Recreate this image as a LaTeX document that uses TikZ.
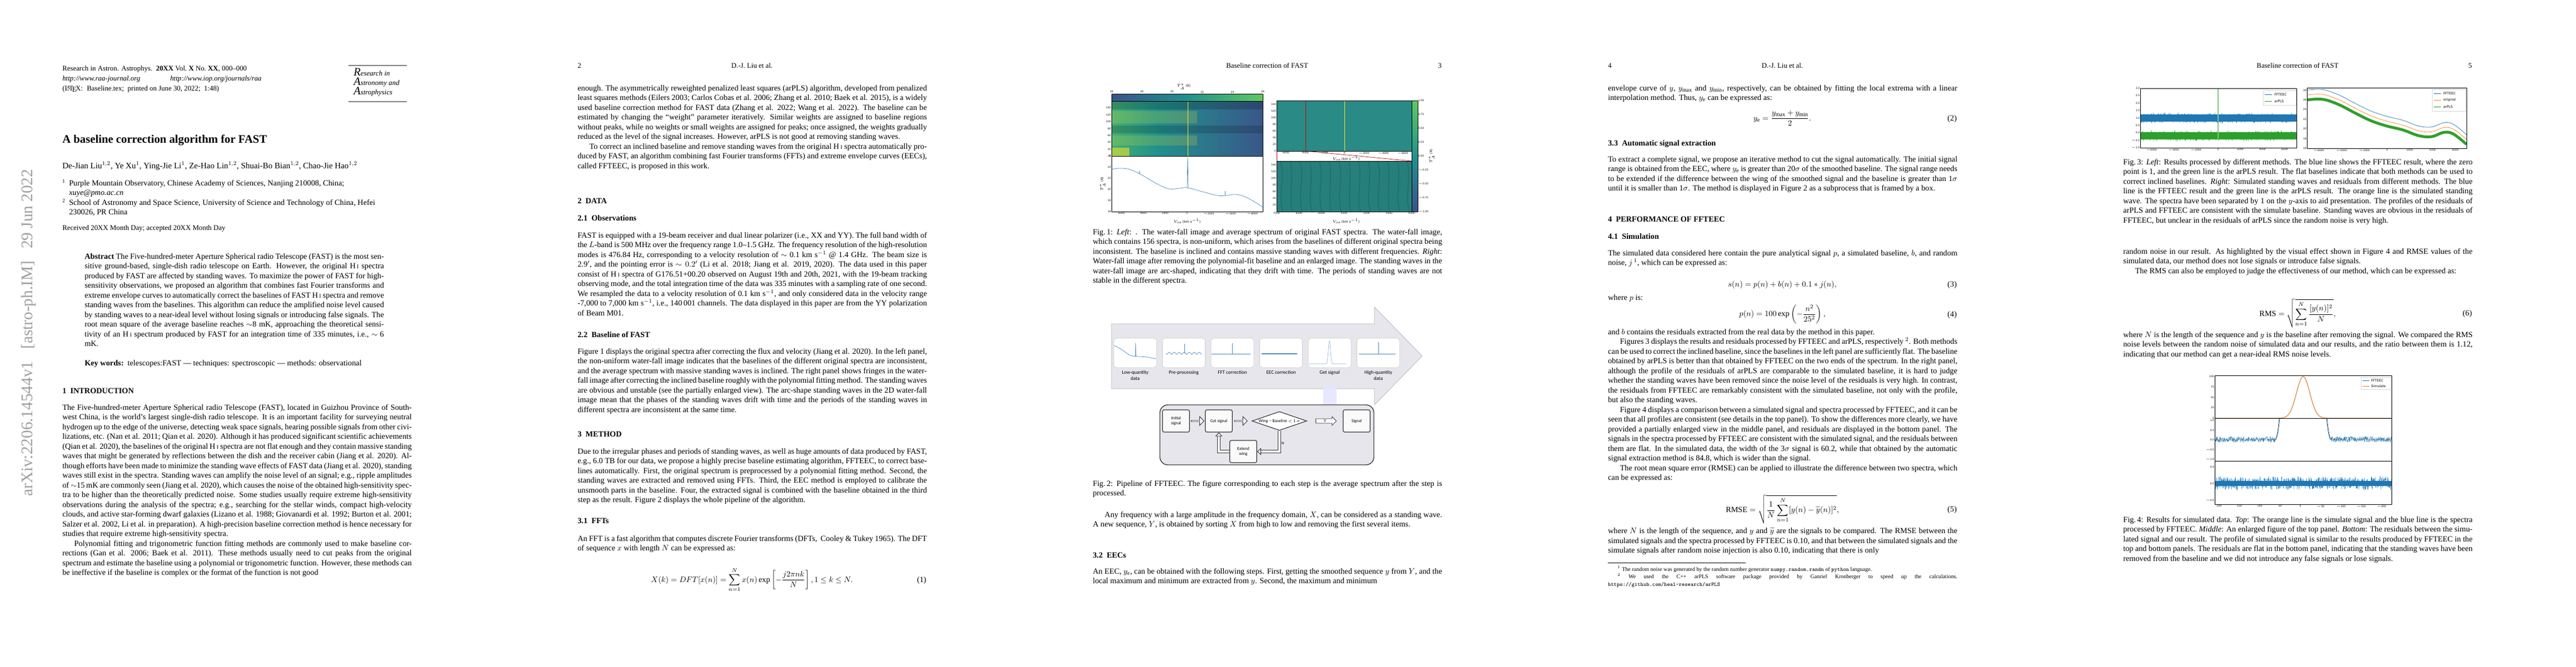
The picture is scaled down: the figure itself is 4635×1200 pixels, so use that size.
\documentclass[tikz,border=0pt]{standalone}
\usepackage{fontspec}
\setmainfont{Liberation Serif}
\newfontfamily\figfont{Carlito}
\newfontfamily\plotfont{DejaVu Sans}
\usetikzlibrary{calc}
\usetikzlibrary{positioning}
\usetikzlibrary{shapes.geometric}
\usetikzlibrary{shapes.arrows}
\usetikzlibrary{arrows.meta}
\definecolor{virA}{HTML}{440154}
\definecolor{virB}{HTML}{3B528B}
\definecolor{virC}{HTML}{21918C}
\definecolor{virD}{HTML}{5EC962}
\definecolor{virE}{HTML}{FDE725}
\definecolor{mplblue}{HTML}{1F77B4}
\definecolor{mplorange}{HTML}{FF7F0E}
\definecolor{mplgreen}{HTML}{2CA02C}
\definecolor{specblue}{HTML}{4A8CC4}
\definecolor{pipegray}{HTML}{E7E6EC}
\definecolor{wfteal}{HTML}{2A8A86}
\newcommand{\pagew}{927}
\newcommand{\textl}{112}
\newcommand{\textc}{426}
\newcommand{\textr}{740}
\newcommand{\HI}{H\,{\scriptsize I}}
\newcommand{\ind}{\hspace*{15pt}}
\pgfdeclarehorizontalshading{viridish}{100bp}{color(0bp)=(virA); color(25bp)=(virB);
  color(50bp)=(virC); color(75bp)=(virD); color(100bp)=(virE)}
\pgfdeclareverticalshading{viridisv}{100bp}{color(0bp)=(virA); color(25bp)=(virB);
  color(50bp)=(virC); color(75bp)=(virD); color(100bp)=(virE)}
\pgfdeclarehorizontalshading{wfall}{100bp}{color(0bp)=(virE!50!virD); color(18bp)=(virD!80!virC);
  color(40bp)=(virC); color(70bp)=(virB!80!virC); color(100bp)=(virB!60!virA)}
\tikzset{
  bodypar/.style={anchor=north west, inner sep=0pt, text width=440pt, align=justify,
    font=\fontsize{10}{12.25}\selectfont},
  abspar/.style={bodypar, text width=377pt},
  oneline/.style={anchor=base west, inner sep=0pt, font=\fontsize{10}{12}\selectfont},
  sechead/.style={oneline, font=\fontsize{10}{12}\selectfont\bfseries},
  runhead/.style={anchor=base, inner sep=0pt, font=\fontsize{9}{11}\selectfont},
  eqn/.style={anchor=center, inner sep=0pt, font=\fontsize{10}{12}\selectfont},
  eqnum/.style={anchor=base east, inner sep=0pt, font=\fontsize{10}{12}\selectfont},
  ticklab/.style={inner sep=0.5pt, font=\plotfont\fontsize{3.2}{4}\selectfont},
  axlab/.style={inner sep=0pt, font=\plotfont\fontsize{4.2}{5}\selectfont},
  frame/.style={draw=black, line width=0.5pt},
  minipanel/.style={draw=gray!40, fill=white, rounded corners=4pt, line width=0.4pt},
  pipelab/.style={anchor=north, align=center, inner sep=0pt,
    font=\figfont\fontsize{6.3}{7.5}\selectfont},
  stepbox/.style={draw=black!80, line width=0.8pt, rounded corners=2pt, fill=white!96!gray,
    align=center, inner sep=1pt, font=\figfont\fontsize{5.4}{6.2}\selectfont},
  hollow/.style={single arrow, draw=black!80, fill=white, line width=0.6pt,
    minimum height=16pt, minimum width=11pt, single arrow head extend=2pt, inner sep=0pt,
    font=\figfont\fontsize{5.4}{6}\selectfont},
  hollowline/.style={draw=black!80, line width=0.6pt, double=white, double distance=3pt,
    -{Triangle[open, length=5pt, width=9pt]}},
  legtext/.style={anchor=west, inner sep=0pt, font=\plotfont\fontsize{4.2}{5}\selectfont}
}
\begin{document}
\begin{tikzpicture}[x=0.7pt, y=-0.7pt]
  \useasboundingbox (0,0) rectangle (4635,1200);
  \fill[white] (0,0) rectangle (4635,1200);
  \pgfmathsetseed{42}
  % page 1
  \begin{scope}
    \node[rotate=90, anchor=base west, inner sep=0pt, text=gray!75,
      font=\fontsize{20.5}{21}\selectfont] (arxivid) at (58,894)
      {arXiv:2206.14544v1\ \ \ [astro-ph.IM]\ \ \ 29 Jun 2022};
    \node[oneline, font=\fontsize{9}{11}\selectfont] (journal) at (\textl,127)
      {Research in Astron. Astrophys.\ \ \textbf{20XX} Vol.\ \textbf{X} No.\ \textbf{XX}, 000--000};
    \node[oneline, font=\fontsize{9}{11}\selectfont] (urls) at (\textl,145)
      {\textit{http://www.raa-journal.org}\hspace{4.2em}\textit{http://www.iop.org/journals/raa}};
    \node[oneline, font=\fontsize{9}{11}\selectfont] (printed) at (\textl,163)
      {(\LaTeX: \ Baseline.tex; \ printed on June 30, 2022; \ 1:48)};
    \draw[gray, line width=1.3pt] (627,118) -- (732,118);
    \draw[gray, line width=1.3pt] (627,183) -- (732,183);
    \node[oneline, font=\fontsize{9}{11}\itshape] (logoa) at (636,136) {{\Large R}esearch in};
    \node[oneline, font=\fontsize{9}{11}\itshape] (logob) at (636,153) {{\Large A}stronomy and};
    \node[oneline, font=\fontsize{9}{11}\itshape] (logoc) at (636,170) {{\Large A}strophysics};
    \node[oneline, font=\fontsize{14.5}{16}\selectfont\bfseries] (title) at (\textl,257)
      {A baseline correction algorithm for FAST};
    \node[oneline, font=\fontsize{10.5}{12}\selectfont] (authors) at (\textl,303)
      {De-Jian Liu$^{1,2}$, Ye Xu$^{1}$, Ying-Jie Li$^{1}$, Ze-Hao Lin$^{1,2}$,
       Shuai-Bo Bian$^{1,2}$, Chao-Jie Hao$^{1,2}$};
    \node[oneline, font=\fontsize{6.5}{8}\selectfont] (affa) at (\textl,329) {1};
    \node[oneline] (affatext) at (124,334)
      {Purple Mountain Observatory, Chinese Academy of Sciences, Nanjing 210008, China;};
    \node[oneline] (email) at (124,351) {\textit{xuye@pmo.ac.cn}};
    \node[oneline, font=\fontsize{6.5}{8}\selectfont] (affb) at (\textl,364) {2};
    \node[oneline] (affbtext) at (124,369)
      {School of Astronomy and Space Science, University of Science and Technology of China, Hefei};
    \node[oneline] (affbcity) at (124,386) {230026, PR China};
    \node[oneline, font=\fontsize{9}{11}\selectfont] (received) at (\textl,414)
      {Received 20XX Month Day; accepted 20XX Month Day};
    \node[abspar] (abstract) at (152,456)
      {\textbf{Abstract} The Five-hundred-meter Aperture Spherical radio Telescope (FAST) is the most
       sensitive ground-based, single-dish radio telescope on Earth. However, the original \HI{}
       spectra produced by FAST are affected by standing waves. To maximize the power of
       FAST for high-sensitivity observations, we proposed an algorithm that combines fast
       Fourier transforms and extreme envelope curves to automatically correct the baselines
       of FAST \HI{} spectra and remove standing waves from the baselines. This algorithm can
       reduce the amplified noise level caused by standing waves to a near-ideal level without
       losing signals or introducing false signals. The root mean square of the average baseline
       reaches $\sim$8 mK, approaching the theoretical sensitivity of an \HI{} spectrum produced by
       FAST for an integration time of 335 minutes, i.e., $\sim$ 6 mK.};
    \node[oneline] (keywords) at (152,658)
      {\textbf{Key words:}\ \ telescopes:FAST --- techniques: spectroscopic --- methods: observational};
    \node[sechead] (secintro) at (\textl,708) {1\ \ INTRODUCTION};
    \node[bodypar] (intro) at (\textl,728)
      {The Five-hundred-meter Aperture Spherical radio Telescope (FAST), located in Guizhou Province of
       Southwest China, is the world's largest single-dish radio telescope. It is an important facility for
       surveying neutral hydrogen up to the edge of the universe, detecting weak space signals, hearing possible
       signals from other civilizations, etc. (Nan et al. 2011; Qian et al. 2020). Although it has produced
       significant scientific achievements (Qian et al. 2020), the baselines of the original \HI{} spectra are not flat
       enough and they contain massive standing waves that might be generated by reflections between the dish
       and the receiver cabin (Jiang et al. 2020). Although efforts have been made to minimize the standing
       wave effects of FAST data (Jiang et al. 2020), standing waves still exist in the spectra. Standing waves
       can amplify the noise level of an signal; e.g., ripple amplitudes of $\sim$15 mK are commonly seen (Jiang
       et al. 2020), which causes the noise of the obtained high-sensitivity spectra to be higher than the
       theoretically predicted noise. Some studies usually require extreme high-sensitivity observations during
       the analysis of the spectra; e.g., searching for the stellar winds, compact high-velocity clouds, and
       active star-forming dwarf galaxies (Lizano et al. 1988; Giovanardi et al. 1992; Burton et al. 2001; Salzer
       et al. 2002, Li et al. in preparation). A high-precision baseline correction method is hence necessary for
       studies that require extreme high-sensitivity spectra.\par
       \ind Polynomial fitting and trigonometric function fitting methods are commonly used to make baseline
       corrections (Gan et al. 2006; Baek et al. 2011). These methods usually need to cut peaks from the
       original spectrum and estimate the baseline using a polynomial or trigonometric function. However,
       these methods can be ineffective if the baseline is complex or the format of the function is not good};
  \end{scope}
  % page 2
  \begin{scope}[shift={(927,0)}]
    \node[oneline, font=\fontsize{9}{11}\selectfont] (pnumb) at (\textl,122) {2};
    \node[runhead] (rheadb) at (\textc,122) {D.-J. Liu et al.};
    \node[bodypar] (arpls) at (\textl,153)
      {enough. The asymmetrically reweighted penalized least squares (arPLS) algorithm, developed from
       penalized least squares methods (Eilers 2003; Carlos Cobas et al. 2006; Zhang et al. 2010; Baek et al.
       2015), is a widely used baseline correction method for FAST data (Zhang et al. 2022; Wang et al.
       2022). The baseline can be estimated by changing the ``weight'' parameter iteratively. Similar weights
       are assigned to baseline regions without peaks, while no weights or small weights are assigned for peaks;
       once assigned, the weights gradually reduced as the level of the signal increases. However, arPLS is not
       good at removing standing waves.\par
       \ind To correct an inclined baseline and remove standing waves from the original \HI{} spectra
       automatically produced by FAST, an algorithm combining fast Fourier transforms (FFTs) and extreme envelope
       curves (EECs), called FFTEEC, is proposed in this work.};
    \node[sechead] (secdata) at (\textl,366) {2\ \ DATA};
    \node[sechead] (secobs) at (\textl,397) {2.1\ \ Observations};
    \node[bodypar] (obs) at (\textl,418)
      {FAST is equipped with a 19-beam receiver and dual linear polarizer (i.e., XX and YY). The full band
       width of the $L$-band is 500 MHz over the frequency range 1.0--1.5 GHz. The frequency resolution of
       the high-resolution modes is 476.84 Hz, corresponding to a velocity resolution of $\sim$ 0.1 km s$^{-1}$ @
       1.4 GHz. The beam size is 2.9$'$, and the pointing error is $\sim 0.2'$ (Li et al. 2018; Jiang et al. 2019, 2020).
       The data used in this paper consist of \HI{} spectra of G176.51+00.20 observed on August 19th and 20th,
       2021, with the 19-beam tracking observing mode, and the total integration time of the data was 335
       minutes with a sampling rate of one second. We resampled the data to a velocity resolution of 0.1 km
       s$^{-1}$, and only considered data in the velocity range -7,000 to 7,000 km s$^{-1}$, i.e., 140\,001 channels. The
       data displayed in this paper are from the YY polarization of Beam M01.};
    \node[sechead] (secbase) at (\textl,607) {2.2\ \ Baseline of FAST};
    \node[bodypar] (base) at (\textl,627)
      {Figure 1 displays the original spectra after correcting the flux and velocity (Jiang et al. 2020). In the left
       panel, the non-uniform water-fall image indicates that the baselines of the different original spectra are
       inconsistent, and the average spectrum with massive standing waves is inclined. The right panel shows
       fringes in the water-fall image after correcting the inclined baseline roughly with the polynomial fitting
       method. The standing waves are obvious and unstable (see the partially enlarged view). The arc-shape
       standing waves in the 2D water-fall image mean that the phases of the standing waves drift with time
       and the periods of the standing waves in different spectra are inconsistent at the same time.};
    \node[sechead] (secmethod) at (\textl,786) {3\ \ METHOD};
    \node[bodypar] (method) at (\textl,807)
      {Due to the irregular phases and periods of standing waves, as well as huge amounts of data produced by
       FAST, e.g., 6.0 TB for our data, we propose a highly precise baseline estimating algorithm, FFTEEC,
       to correct baselines automatically. First, the original spectrum is preprocessed by a polynomial fitting
       method. Second, the standing waves are extracted and removed using FFTs. Third, the EEC method is
       employed to calibrate the unsmooth parts in the baseline. Four, the extracted signal is combined with the
       baseline obtained in the third step as the result. Figure 2 displays the whole pipeline of the algorithm.};
    \node[sechead] (secfft) at (\textl,942) {3.1\ \ FFTs};
    \node[bodypar] (fft) at (\textl,964)
      {An FFT is a fast algorithm that computes discrete Fourier transforms (DFTs, \ Cooley \& Tukey 1965).
       The DFT of sequence $x$ with length $N$ can be expressed as:};
    \node[eqn] (eqdft) at (\textc,1044)
      {$\displaystyle X(k)=DFT[x(n)]=\sum_{n=1}^{N}x(n)\exp\left[-\frac{j2\pi nk}{N}\right],1\leq k\leq N.$};
    \node[eqnum] (eqdftnum) at (\textr,1048) {(1)};
  \end{scope}
  % page 3
  \begin{scope}[shift={(1854,0)}]
    \node[runhead] (rheadc) at (\textc,122) {Baseline correction of FAST};
    \node[anchor=base east, inner sep=0pt, font=\fontsize{9}{11}\selectfont] (pnumc) at (\textr,122) {3};
    % fig 1 left: colour bar, water-fall image, average spectrum
    \shade[shading=viridish] (146,169) rectangle (418,182);
    \draw[frame] (146,169) rectangle (418,182);
    \node[axlab] (cblab) at (276,156) {$T_A^*$ (K)};
    \foreach \v in {16,18,...,26}
      \node[ticklab, above] at ({146+(\v-16)*27.2},168) {\v};
    \shade[shading=wfall] (146,182) rectangle (418,281);
    \fill[black, opacity=0.18] (146,182) rectangle (418,197);
    \fill[black, opacity=0.16] (146,226) rectangle (418,240);
    \fill[virE, opacity=0.18] (146,200) rectangle (300,222);
    \fill[virE, opacity=0.18] (146,244) rectangle (300,262);
    \fill[virE, opacity=0.55] (146,266) rectangle (178,281);
    \draw[virE, line width=0.6pt] (283,182) -- (283,281);
    \draw[frame] (146,182) rectangle (418,281);
    \foreach \v in {0,20,...,140}
      \node[ticklab, left] at (146,{281-\v*0.62}) {\v};
    \draw[frame] (146,281) rectangle (418,381);
    \draw[specblue, line width=0.5pt] plot[smooth, tension=0.6] coordinates {(146,305) (159.6,303)
      (178.6,305) (200.4,315) (227.6,331) (249.4,340) (268.4,339) (282,338) (309.2,345) (336.4,352)
      (352.7,352) (369,350) (385.4,354) (404.4,364) (418,373)};
    \draw[specblue, line width=0.5pt] (282,338) -- (283,281) -- (284,338);
    \draw[specblue, line width=0.4pt] (350,352) -- (350,344);
    \draw[specblue, line width=0.4pt] (196,313) -- (196,308);
    \foreach \v in {16,18,...,26}
      \node[ticklab, left] at (146,{381-(\v-16)*10}) {\v};
    \foreach \v [count=\i from 0] in {6000,4000,2000,0,$-$2000,$-$4000,$-$6000}
      \node[ticklab, below] at ({164+\i*39.2},381) {\v};
    \node[axlab] (xlabl) at (282,398) {$V_{\rm LSR}$ (km s$^{-1}$)};
    \node[axlab, rotate=90] (ylabl) at (130,331) {$T_A^*$ (K)};
    % fig 1 right: corrected water-fall image and enlarged view
    \fill[wfteal] (443,181) rectangle (686,272);
    \fill[wfteal!92!black] (443,290) rectangle (686,381);
    \foreach \k in {0,...,13}
      \draw[wfteal!70!black, line width=1.2pt, opacity=0.5]
        ({450+\k*17.5},290) .. controls ({458+\k*17.5},320) and ({446+\k*17.5},350) .. ({454+\k*17.5},381);
    \draw[virE, line width=0.7pt] (565,181) -- (565,272);
    \draw[red!80!black, line width=0.6pt] (443,181) rectangle (495,272);
    \draw[red!80!black, line width=0.5pt] (443,272) -- (443,290);
    \draw[red!80!black, line width=0.5pt] (495,272) -- (686,290);
    \draw[frame] (443,181) rectangle (686,272);
    \draw[frame] (443,290) rectangle (686,381);
    \foreach \v in {0,20,...,140}
      \node[ticklab, left] at (443,{272-\v*0.6}) {\v};
    \foreach \v in {20,40,...,140}
      \node[ticklab, left] at (443,{381-\v*0.6}) {\v};
    \foreach \v [count=\i from 0] in {6000,4000,2000,0,$-$2000,$-$4000,$-$6000}
      \node[ticklab, below] at ({460+\i*35},272) {\v};
    \node[axlab] (xlabrt) at (568,285) {$V_{\rm LSR}$ (km s$^{-1}$)};
    \foreach \v [count=\i from 0] in {7000,6500,6000,5500,5000,4500,4000}
      \node[ticklab, below] at ({443+\i*40.5},381) {\v};
    \node[axlab] (xlabrb) at (568,398) {$V_{\rm LSR}$ (km s$^{-1}$)};
    \shade[shading=viridisv] (686,181) rectangle (697,381);
    \draw[frame] (686,181) rectangle (697,381);
    \foreach \v [count=\i from 0] in {1.00,0.75,0.50,0.25,0.00,$-$0.25,$-$0.50,$-$0.75,$-$1.00}
      \node[ticklab, right] at (697,{181+\i*25}) {\v};
    \node[axlab, rotate=90] (cblabr) at (722,281) {$T_A^*$ (K)};
    \node[bodypar] (capone) at (\textl,412)
      {Fig.\,1: \textit{Left}: . The water-fall image and average spectrum of original FAST spectra. The water-fall
       image, which contains 156 spectra, is non-uniform, which arises from the baselines of different original
       spectra being inconsistent. The baseline is inclined and contains massive standing waves with different
       frequencies. \textit{Right}: Water-fall image after removing the polynomial-fit baseline and an enlarged image.
       The standing waves in the water-fall image are arc-shaped, indicating that they drift with time. The
       periods of standing waves are not stable in the different spectra.};
    % fig 2: pipeline
    \filldraw[fill=pipegray, draw=gray!60, line width=0.5pt] (146,583) -- (619,583) -- (619,553)
      -- (705,641) -- (619,729) -- (619,700) -- (146,700) -- cycle;
    \foreach \lab [count=\i from 0] in {Low-quantity\\data,Pre-processing,FFT correction,
        EEC correction,Get signal,High-quantity\\data} {
      \draw[minipanel] ({150+\i*87.5},609) rectangle ({227+\i*87.5},662);
      \node[pipelab] (steplab\i) at ({188.5+\i*87.5},667) {\lab};
    }
    \draw[specblue, line width=0.5pt] plot[smooth] coordinates {(151,622) (165,630) (180,640)
      (195,642) (210,643) (226,646)};
    \draw[specblue, line width=0.5pt] (189,642) -- (189,617) -- (190,642);
    \draw[specblue, line width=0.5pt] plot[domain=244:308, samples=40] (\x,{636+2*sin(\x*40)});
    \draw[specblue, line width=0.5pt] (277,636) -- (277,619);
    \draw[specblue, line width=0.6pt] (326,637) -- (396,637);
    \draw[specblue, line width=0.5pt] (363,637) -- (363,618);
    \draw[specblue, line width=1pt] (416,637) -- (480,637);
    \draw[specblue!70, line width=0.4pt] (501,655) -- (532,655) .. controls (536,655) and (536,615)
      .. (538,614) .. controls (540,615) and (540,655) .. (544,655) -- (568,655);
    \draw[specblue, line width=0.6pt] (591,637) -- (657,637);
    \draw[specblue, line width=0.5pt] (626,637) -- (626,616);
    \node[single arrow, shape border rotate=270, fill=blue!10, draw=none, minimum height=36pt,
      minimum width=26pt, single arrow head extend=2pt, opacity=0.9] (downarrow) at (539,715) {};
    \filldraw[fill=pipegray, draw=black!75, line width=1pt, rounded corners=10pt]
      (233,729) rectangle (618,837);
    \node[stepbox, minimum width=34pt, minimum height=28pt] (initsig) at (262,758) {Initial\\signal};
    \node[stepbox, minimum width=34pt, minimum height=28pt] (cutsig) at (339,758) {Cut signal};
    \node[diamond, aspect=2.9, draw=black!80, line width=0.8pt, fill=white, inner sep=0.5pt,
      font=\figfont\fontsize{5.4}{6}\selectfont] (wingtest) at (448,758)
      {Wing -- Baseline $<$ 1 $\sigma$};
    \node[stepbox, minimum width=34pt, minimum height=28pt] (signal) at (587,758) {Signal};
    \node[stepbox, minimum width=34pt, minimum height=28pt] (extwing) at (383,813) {Extend\\wing};
    \node[hollow] (arra) at ($(initsig.east)!0.5!(cutsig.west)$) {};
    \node[hollow] (arrb) at ($(cutsig.east)!0.42!(wingtest.west)$) {};
    \node[hollow, minimum height=26pt] (arry) at ($(wingtest.east)!0.5!(signal.west)$) {Y\hspace{6pt}};
    \draw[hollowline] (extwing.west) -| (cutsig.south);
    \draw[hollowline] (wingtest.south) |- (extwing.east) node[pos=0.3, right=-1pt,
      font=\figfont\fontsize{5}{6}\selectfont] (nlab) {N};
    \node[bodypar] (captwo) at (\textl,865)
      {Fig.\,2: Pipeline of FFTEEC. The figure corresponding to each step is the average spectrum after the step
       is processed.};
    \node[bodypar] (anyfreq) at (\textl,921)
      {\ind Any frequency with a large amplitude in the frequency domain, $X$, can be considered as a standing
       wave. A new sequence, $Y$, is obtained by sorting $X$ from high to low and removing the first several
       items.};
    \node[sechead] (seceec) at (\textl,1004) {3.2\ \ EECs};
    \node[bodypar] (eec) at (\textl,1023)
      {An EEC, $y_{\rm e}$, can be obtained with the following steps. First, getting the smoothed sequence $y$ from
       $Y$, and the local maximum and minimum are extracted from $y$. Second, the maximum and minimum};
  \end{scope}
  % page 4
  \begin{scope}[shift={(2781,0)}]
    \node[oneline, font=\fontsize{9}{11}\selectfont] (pnumd) at (\textl,122) {4};
    \node[runhead] (rheadd) at (\textc,122) {D.-J. Liu et al.};
    \node[bodypar] (envelope) at (\textl,153)
      {envelope curve of $y$, $y_{\rm max}$ and $y_{\rm min}$, respectively, can be obtained by fitting the local extrema with a
       linear interpolation method. Thus, $y_{\rm e}$ can be expressed as:};
    \node[eqn] (eqye) at (\textc,213) {$\displaystyle y_{\rm e}=\frac{y_{\rm max}+y_{\rm min}}{2}.$};
    \node[eqnum] (eqyenum) at (\textr,217) {(2)};
    \node[sechead] (secauto) at (\textl,262) {3.3\ \ Automatic signal extraction};
    \node[bodypar] (auto) at (\textl,281)
      {To extract a complete signal, we propose an iterative method to cut the signal automatically. The initial
       signal range is obtained from the EEC, where $y_{\rm e}$ is greater than 20$\sigma$ of the smoothed baseline. The signal
       range needs to be extended if the difference between the wing of the smoothed signal and the baseline
       is greater than 1$\sigma$ until it is smaller than 1$\sigma$. The method is displayed in Figure 2 as a subprocess that is
       framed by a box.};
    \node[sechead] (secperf) at (\textl,399) {4\ \ PERFORMANCE OF FFTEEC};
    \node[sechead] (secsim) at (\textl,430) {4.1\ \ Simulation};
    \node[bodypar] (sim) at (\textl,450)
      {The simulated data considered here contain the pure analytical signal $p$, a simulated baseline, $b$, and
       random noise, $j$\,$^{1}$, which can be expressed as:};
    \node[eqn] (eqsn) at (\textc,513) {$s(n)=p(n)+b(n)+0.1*j(n),$};
    \node[eqnum] (eqsnnum) at (\textr,516) {(3)};
    \node[oneline] (wherep) at (\textl,540) {where $p$ is:};
    \node[eqn] (eqpn) at (\textc,566) {$\displaystyle p(n)=100\exp\left(-\frac{n^2}{25^2}\right),$};
    \node[eqnum] (eqpnnum) at (\textr,570) {(4)};
    \node[bodypar] (results) at (\textl,592)
      {and $b$ contains the residuals extracted from the real data by the method in this paper.\par
       \ind Figures 3 displays the results and residuals processed by FFTEEC and arPLS, respectively $^{2}$. Both
       methods can be used to correct the inclined baseline, since the baselines in the left panel are sufficiently
       flat. The baseline obtained by arPLS is better than that obtained by FFTEEC on the two ends of the
       spectrum. In the right panel, although the profile of the residuals of arPLS are comparable to the
       simulated baseline, it is hard to judge whether the standing waves have been removed since the noise level
       of the residuals is very high. In contrast, the residuals from FFTEEC are remarkably consistent with the
       simulated baseline, not only with the profile, but also the standing waves.\par
       \ind Figure 4 displays a comparison between a simulated signal and spectra processed by FFTEEC, and
       it can be seen that all profiles are consistent (see details in the top panel). To show the differences more
       clearly, we have provided a partially enlarged view in the middle panel, and residuals are displayed in
       the bottom panel. The signals in the spectra processed by FFTEEC are consistent with the simulated
       signal, and the residuals between them are flat. In the simulated data, the width of the 3$\sigma$ signal is 60.2,
       while that obtained by the automatic signal extraction method is 84.8, which is wider than the signal.\par
       \ind The root mean square error (RMSE) can be applied to illustrate the difference between two spectra,
       which can be expressed as:};
    \node[eqn] (eqrmse) at (\textc,917)
      {$\displaystyle \mathrm{RMSE}=\sqrt{\frac{1}{N}\sum_{n=1}^{N}[y(n)-\widetilde{y}(n)]^2},$};
    \node[eqnum] (eqrmsenum) at (\textr,921) {(5)};
    \node[bodypar] (rmsetext) at (\textl,950)
      {where $N$ is the length of the sequence, and $y$ and $\widetilde{y}$ are the signals to be compared. The RMSE between
       the simulated signals and the spectra processed by FFTEEC is 0.10, and that between the simulated
       signals and the simulate signals after random noise injection is also 0.10, indicating that there is only};
    \draw[line width=0.4pt] (\textl,1013) -- (360,1013);
    \node[bodypar, font=\fontsize{7}{9.6}\selectfont] (footnotes) at (\textl,1019)
      {\hspace*{12pt}$^{1}$ The random noise was generated by the random number generator \texttt{numpy.random.randn}
       of \texttt{python} language.\par
       \hspace*{12pt}$^{2}$ We used the C++ arPLS software package provided by Ganriel Kronberger to speed up the
       calculations. \texttt{https://github.com/heal-research/arPLS}};
  \end{scope}
  % page 5
  \begin{scope}[shift={(3708,0)}]
    \node[runhead] (rheade) at (\textc,122) {Baseline correction of FAST};
    \node[anchor=base east, inner sep=0pt, font=\fontsize{9}{11}\selectfont] (pnume) at (\textr,122) {5};
    % fig 3 left: FFTEEC and arPLS results
    \fill[mplblue] (143,206) rectangle (424,219);
    \draw[mplblue, line width=0.35pt] plot[domain=143:424, samples=500] (\x,{212.5+9*rand});
    \fill[mplgreen] (143,238) rectangle (424,251);
    \draw[mplgreen, line width=0.35pt] plot[domain=143:424, samples=500] (\x,{244.5+9*rand});
    \draw[mplgreen!60, line width=1pt] (283,159) -- (283,252);
    \draw[frame] (143,159) rectangle (424,266);
    \foreach \v [count=\i from 0] in {$-$1.0,$-$0.5,0.0,0.5,1.0,1.5,2.0,2.5,3.0}
      \node[ticklab, left] at (143,{266-\i*13.4}) {\v};
    \foreach \v [count=\i from 0] in {$-$6000,$-$4000,$-$2000,0,2000,4000,6000}
      \node[ticklab, below] at ({163+\i*40},266) {\v};
    \draw[fill=white, draw=gray!30] (364,163) rectangle (423,189);
    \draw[mplblue, line width=0.6pt] (367,170) -- (380,170);
    \node[legtext] (legaa) at (384,170) {FFTEEC};
    \draw[mplgreen, line width=0.6pt] (367,182) -- (380,182);
    \node[legtext] (legab) at (384,182) {arPLS};
    % fig 3 right: standing waves and residuals
    \draw[mplgreen, line width=3.5pt] plot[smooth, tension=0.6] coordinates {(443,179.8) (471.7,178.9)
      (500.4,188.5) (529.1,203.3) (557.8,217.3) (586.5,226.9) (615.2,233.9) (643.9,244.3)
      (666.9,246.1) (689.8,238.2) (707,241.7) (730,260)};
    \draw[mplorange, line width=0.5pt, yshift=6.1pt] plot[smooth, tension=0.6] coordinates {(443,179.8)
      (471.7,178.9) (500.4,188.5) (529.1,203.3) (557.8,217.3) (586.5,226.9) (615.2,233.9) (643.9,244.3)
      (666.9,246.1) (689.8,238.2) (707,241.7) (730,260)};
    \draw[mplblue, line width=0.5pt, yshift=12.2pt] plot[smooth, tension=0.6] coordinates {(443,179.8)
      (471.7,178.9) (500.4,188.5) (529.1,203.3) (557.8,217.3) (586.5,226.9) (615.2,233.9) (643.9,244.3)
      (666.9,246.1) (689.8,238.2) (707,241.7) (730,260)};
    \draw[frame] (443,158) rectangle (730,267);
    \foreach \v in {16,18,...,28}
      \node[ticklab, left] at (443,{267-(\v-16)*8.72}) {\v};
    \foreach \v [count=\i from 0] in {$-$6000,$-$4000,$-$2000,0,2000,4000,6000}
      \node[ticklab, below] at ({464+\i*41},267) {\v};
    \draw[fill=white, draw=gray!30] (668,161) rectangle (728,200);
    \draw[mplblue, line width=0.6pt] (671,168) -- (684,168);
    \node[legtext] (legba) at (688,168) {FFTEEC};
    \draw[mplorange, line width=0.6pt] (671,180) -- (684,180);
    \node[legtext] (legbb) at (688,180) {original};
    \draw[mplgreen, line width=0.6pt] (671,192) -- (684,192);
    \node[legtext] (legbc) at (688,192) {arPLS};
    \node[bodypar] (capthree) at (\textl,286)
      {Fig.\,3: \textit{Left}: Results processed by different methods. The blue line shows the FFTEEC result, where
       the zero point is 1, and the green line is the arPLS result. The flat baselines indicate that both methods
       can be used to correct inclined baselines. \textit{Right}: Simulated standing waves and residuals from different
       methods. The blue line is the FFTEEC result and the green line is the arPLS result. The orange line is
       the simulated standing wave. The spectra have been separated by 1 on the $y$-axis to aid presentation.
       The profiles of the residuals of arPLS and FFTEEC are consistent with the simulate baseline. Standing
       waves are obvious in the residuals of FFTEEC, but unclear in the residuals of arPLS since the random
       noise is very high.};
    \node[bodypar] (noisetext) at (\textl,447)
      {random noise in our result. As highlighted by the visual effect shown in Figure 4 and RMSE values of
       the simulated data, our method does not lose signals or introduce false signals.\par
       \ind The RMS can also be employed to judge the effectiveness of our method, which can be expressed
       as:};
    \node[eqn] (eqrms) at (\textc,564)
      {$\displaystyle \mathrm{RMS}=\sqrt{\sum_{n=1}^{N}\frac{[y(n)]^2}{N}},$};
    \node[eqnum] (eqrmsnum) at (\textr,568) {(6)};
    \node[bodypar] (rmstext) at (\textl,597)
      {where $N$ is the length of the sequence and $y$ is the baseline after removing the signal. We compared the
       RMS noise levels between the random noise of simulated data and our results, and the ratio between
       them is 1.12, indicating that our method can get a near-ideal RMS noise levels.};
    % fig 4: simulated signal, enlarged view, residuals
    \draw[mplblue, line width=0.5pt] plot[domain=277:595, samples=200] (\x,{753-75*exp(-((\x-436)/17)^2)});
    \draw[mplorange, line width=0.6pt] plot[domain=277:595, samples=200] (\x,{753-75*exp(-((\x-436)/17)^2)});
    \draw[frame] (277,676) rectangle (595,753);
    \foreach \v in {0,25,50,75,100}
      \node[ticklab, left] at (277,{753-\v*0.75}) {\v};
    \draw[fill=white, draw=gray!30] (540,679) rectangle (593,701);
    \draw[mplblue, line width=0.6pt] (543,685) -- (555,685);
    \node[legtext] (legca) at (558,685) {FFTEEC};
    \draw[mplorange, line width=0.6pt] (543,695) -- (555,695);
    \node[legtext] (legcb) at (558,695) {Simulate};
    \draw[mplblue, line width=0.35pt] plot[domain=277:386, samples=220] (\x,{791+5*rand});
    \draw[mplblue, line width=0.35pt] plot[domain=486:595, samples=220] (\x,{791+5*rand});
    \draw[mplblue, line width=0.6pt] (386,792) .. controls (390,790) and (392,770) .. (394,753);
    \draw[mplblue, line width=0.6pt] (486,792) .. controls (482,790) and (480,770) .. (478,753);
    \draw[gray, line width=0.6pt] (277,792) -- (384,792) .. controls (389,791) and (391,770) .. (393,753);
    \draw[gray, line width=0.6pt] (595,792) -- (488,792) .. controls (483,791) and (481,770) .. (479,753);
    \draw[frame] (277,753) rectangle (595,830);
    \foreach \v [count=\i from 0] in {$-$1.0,$-$0.5,0.0,0.5,1.0}
      \node[ticklab, left] at (277,{827-\i*17.5}) {\v};
    \fill[mplblue] (277,866) rectangle (595,875);
    \draw[mplblue, line width=0.35pt] plot[domain=277:595, samples=600] (\x,{870+12*rand});
    \draw[frame] (277,830) rectangle (595,908);
    \foreach \v [count=\i from 0] in {$-$0.5,0.0,0.5}
      \node[ticklab, left] at (277,{901-\i*30}) {\v};
    \foreach \v [count=\i from 0] in {200,150,100,50,0,$-$50,$-$100,$-$150,$-$200}
      \node[ticklab, below] at ({285+\i*36.5},908) {\v};
    \node[bodypar] (capfour) at (\textl,930)
      {Fig.\,4: Results for simulated data. \textit{Top}: The orange line is the simulate signal and the blue line is the
       spectra processed by FFTEEC. \textit{Middle}: An enlarged figure of the top panel. \textit{Bottom}: The residuals
       between the simulated signal and our result. The profile of simulated signal is similar to the results
       produced by FFTEEC in the top and bottom panels. The residuals are flat in the bottom panel, indicating
       that the standing waves have been removed from the baseline and we did not introduce any false signals
       or lose signals.};
  \end{scope}
\end{tikzpicture}
\end{document}
